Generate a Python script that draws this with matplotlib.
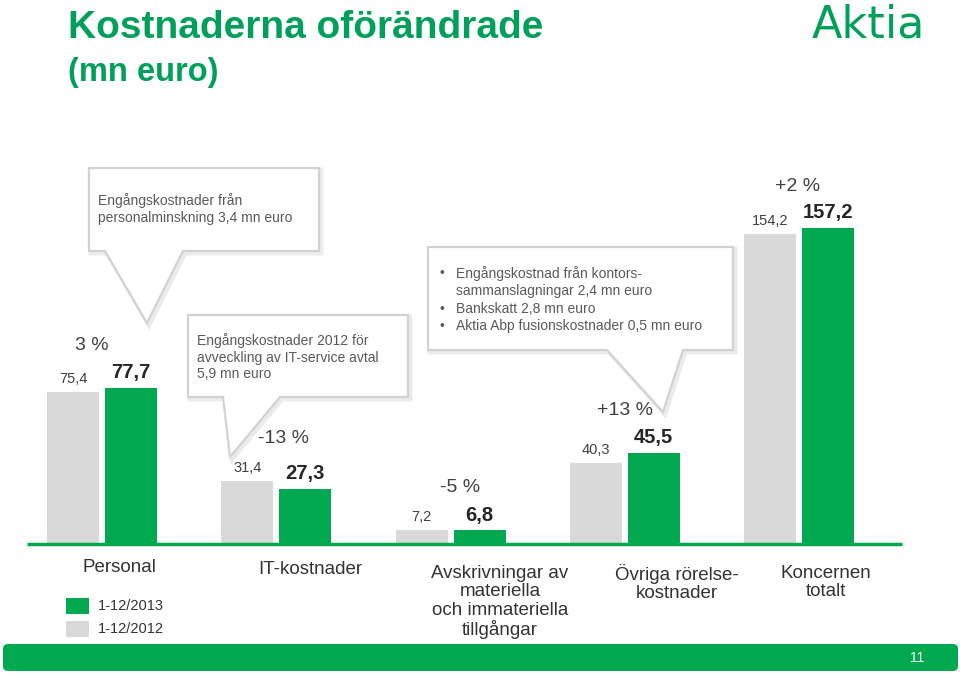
import matplotlib
matplotlib.use('Agg')
import matplotlib.pyplot as plt
from matplotlib.patches import Polygon, FancyBboxPatch, Rectangle
from matplotlib.transforms import Affine2D

# ---------------- data ----------------
categories = ['Personal', 'IT-kostnader',
              'Avskrivningar av\nmateriella\noch immateriella\ntillgångar',
              'Övriga rörelse-\nkostnader', 'Koncernen\ntotalt']
values_2012 = [75.4, 31.4, 7.2, 40.3, 154.2]
values_2013 = [77.7, 27.3, 6.8, 45.5, 157.2]
labels_2012 = ['75,4', '31,4', '7,2', '40,3', '154,2']
labels_2013 = ['77,7', '27,3', '6,8', '45,5', '157,2']
changes = ['3 %', '-13 %', '-5 %', '+13 %', '+2 %']
series = ['1-12/2013', '1-12/2012']

callout_texts = [
    'Engångskostnader från\npersonalminskning 3,4 mn euro',
    'Engångskostnader 2012 för\navveckling av IT-service avtal\n5,9 mn euro',
]
callout_bullets = ['Engångskostnad från kontors-\nsammanslagningar 2,4 mn euro',
                   'Bankskatt 2,8 mn euro',
                   'Aktia Abp fusionskostnader 0,5 mn euro']

# ---------------- style ----------------
GREEN = '#00a94f'
GRAY = '#d9d9d9'
TITLE_GREEN = '#00a05a'
TXT = '#333333'
BOX_TXT = '#595959'
FONT = ['Liberation Sans', 'DejaVu Sans']
plt.rcParams['font.family'] = FONT

W, H = 960, 674
fig = plt.figure(figsize=(W / 100, H / 100), dpi=100)
pix = Affine2D().scale(1 / W, -1 / H).translate(0, 1) + fig.transFigure

# axes: baseline at pixel y=544, 2.01 px per unit, group spacing 174.25 px
x_left_px, group_px = 14.9, 174.25
xlim = (-0.5, 4.8)
ylim = (0, 165)
ax = fig.add_axes([x_left_px / W, (H - 544) / H,
                   (xlim[1] - xlim[0]) * group_px / W, ylim[1] * 2.01 / H])
ax.set_xlim(*xlim)
ax.set_ylim(*ylim)
ax.axis('off')

bw = 52 / group_px
off = 29 / group_px
xs = list(range(len(categories)))
ax.bar([x - off for x in xs], values_2012, width=bw, color=GRAY, zorder=2)
ax.bar([x + off for x in xs], values_2013, width=bw, color=GREEN, zorder=2)
ax.plot([-0.43, 4.59], [0, 0], color=GREEN, lw=2.5, clip_on=False, zorder=3,
        solid_capstyle='butt')

pct_dx = [-10, 7, 10, 0, -1]  # px
for i in xs:
    ax.annotate(labels_2012[i], (i - off, values_2012[i]), xytext=(0, 6.5),
                textcoords='offset points', ha='center', va='baseline',
                fontsize=10.5, color='#404040')
    ax.annotate(labels_2013[i], (i + off, values_2013[i]), xytext=(0, 7),
                textcoords='offset points', ha='center', va='baseline',
                fontsize=14.5, fontweight='bold', color='#262626')
    top = max(values_2012[i], values_2013[i])
    ax.annotate(changes[i], (i, top), xytext=(pct_dx[i] * 0.72, 27),
                textcoords='offset points', ha='center', va='baseline',
                fontsize=14, color='#404040')

# ---------------- title & logo ----------------
fig.text(68 / W, 1 - 38 / H, 'Kostnaderna oförändrade', fontsize=28,
         fontweight='bold', color=TITLE_GREEN, va='baseline', ha='left')
fig.text(68 / W, 1 - 81 / H, '(mn euro)', fontsize=23.5,
         fontweight='bold', color=TITLE_GREEN, va='baseline', ha='left')
fig.text(925 / W, 1 - 37 / H, 'Aktia', fontsize=32, family='DejaVu Sans',
         color=TITLE_GREEN, va='baseline', ha='right')

# ---------------- callouts ----------------
def callout(box, tail):
    x0, y0, x1, y1 = box
    bl, br, tip = tail
    pts = [(x0, y0), (x1, y0), (x1, y1), (br, y1), tip, (bl, y1), (x0, y1)]
    sh = [(x + 2, y + 2) for x, y in pts]
    fig.add_artist(Polygon(sh, closed=True, transform=pix, facecolor='none',
                           edgecolor='#ebebeb', lw=3.5, zorder=4))
    fig.add_artist(Polygon(pts, closed=True, transform=pix, facecolor='white',
                           edgecolor='#d2d2d2', lw=1.6, zorder=5))

callout((89, 168, 319, 251), (105, 183, (147, 323)))
callout((188, 315, 408, 397), (223, 280, (230, 457)))
callout((428, 247, 733, 350), (607, 683, (663, 412)))

fig.text(98 / W, 1 - 193 / H, callout_texts[0],
         fontsize=10, color=BOX_TXT, va='top', ha='left', linespacing=1.25,
         zorder=6)
fig.text(197 / W, 1 - 333 / H, callout_texts[1], fontsize=10, color=BOX_TXT,
         va='top', ha='left', linespacing=1.25, zorder=6)
by = [266, 302, 319]
for b, y in zip(callout_bullets, by):
    fig.text(440 / W, 1 - y / H, '•', fontsize=10, color=BOX_TXT, va='top',
             ha='left', zorder=6)
    fig.text(456 / W, 1 - y / H, b, fontsize=10, color=BOX_TXT, va='top',
             ha='left', linespacing=1.25, zorder=6)

# ---------------- category labels ----------------
cat_pos = [(119, 559), (310, 561), (500, 565), (677, 564), (826, 565)]
for c, (x, y) in zip(categories, cat_pos):
    fig.text(x / W, 1 - y / H, c, fontsize=13.5, color=TXT, ha='center',
             va='top', linespacing=1.1)

# ---------------- legend ----------------
for (lbl, col, y) in zip(series, [GREEN, GRAY], [598, 621]):
    fig.add_artist(Rectangle((66, y), 23, 16, transform=pix, facecolor=col,
                             edgecolor='none'))
    fig.text(98 / W, 1 - (y + 8) / H, lbl, fontsize=10.5, color=TXT,
             va='center', ha='left')

# ---------------- footer ----------------
fig.add_artist(FancyBboxPatch((3, 644), 955, 27, transform=pix,
                              boxstyle='round,pad=0,rounding_size=5',
                              facecolor=GREEN, edgecolor='none'))
fig.text(917 / W, 1 - 658 / H, '11', fontsize=10, color='white',
         ha='center', va='center')

fig.savefig('out.png', dpi=100)
